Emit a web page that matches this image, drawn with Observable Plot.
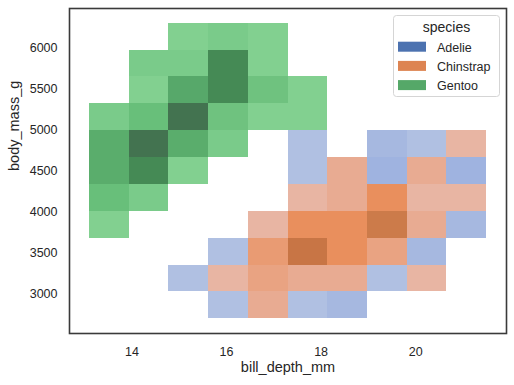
<!DOCTYPE html>
<html>
<head>
<meta charset="utf-8">
<script src="https://cdn.jsdelivr.net/npm/d3@7"></script>
<script src="https://cdn.jsdelivr.net/npm/@observablehq/plot@0.6"></script>
<style>
  body { margin: 0; background: #fff; }
  #chart { position: relative; width: 514px; height: 385px; font-family: "Liberation Sans", Arial, sans-serif; }
  #chart svg.legend { position: absolute; left: 0; top: 0; pointer-events: none; }
</style>
</head>
<body>
<div id="chart"></div>
<script>
// ---- data ----
const species = ["Adelie", "Chinstrap", "Gentoo"];
const xTicks = [14, 16, 18, 20];
const yTicks = [3000, 3500, 4000, 4500, 5000, 5500, 6000];
// histogram bin edges (bill_depth_mm, body_mass_g)
const xEdges = [13.1, 13.94, 14.78, 15.62, 16.46, 17.3, 18.14, 18.98, 19.82, 20.66, 21.5];
const yEdges = [2700, 3027.3, 3354.5, 3681.8, 4009.1, 4336.4, 4663.6, 4990.9, 5318.2, 5645.5, 5972.7, 6300];
// visible counts per cell; rows from the top bin (5973-6300 g) down to the bottom bin, columns left to right
const adelieCounts = [
  [0,0,0,0,0,0,0,0,0,0],
  [0,0,0,0,0,0,0,0,0,0],
  [0,0,0,0,0,0,0,0,0,0],
  [0,0,0,0,0,0,0,0,0,0],
  [0,0,0,0,0,1,0,2,1,0],
  [0,0,0,0,0,1,0,3,0,3],
  [0,0,0,0,0,0,0,0,0,0],
  [0,0,0,0,0,0,0,0,0,2],
  [0,0,0,1,0,0,0,0,2,0],
  [0,0,1,0,0,0,0,1,0,0],
  [0,0,0,1,0,1,2,0,0,0]
];
const chinstrapCounts = [
  [0,0,0,0,0,0,0,0,0,0],
  [0,0,0,0,0,0,0,0,0,0],
  [0,0,0,0,0,0,0,0,0,0],
  [0,0,0,0,0,0,0,0,0,0],
  [0,0,0,0,0,0,0,0,0,1],
  [0,0,0,0,0,0,2,0,2,0],
  [0,0,0,0,0,1,2,6,1,1],
  [0,0,0,0,1,6,6,9,2,0],
  [0,0,0,0,4,10,6,3,0,0],
  [0,0,0,1,3,2,2,0,1,0],
  [0,0,0,0,2,0,0,0,0,0]
];
const gentooCounts = [
  [0,0,1,2,1,0,0,0,0,0],
  [0,2,2,11,1,0,0,0,0,0],
  [0,1,8,11,3,1,0,0,0,0],
  [2,4,15,3,1,1,0,0,0,0],
  [7,15,7,2,0,0,0,0,0,0],
  [7,11,1,0,0,0,0,0,0,0],
  [4,2,0,0,0,0,0,0,0,0],
  [1,0,0,0,0,0,0,0,0,0],
  [0,0,0,0,0,0,0,0,0,0],
  [0,0,0,0,0,0,0,0,0,0],
  [0,0,0,0,0,0,0,0,0,0]
];

// ---- styles ----
const baseColors = {Adelie: "#4c72b0", Chinstrap: "#dd8452", Gentoo: "#55a868"};
const ramps = {
  Adelie: d3.scaleLinear().domain([1, 2, 3]).range(["#b0c0e2", "#a6b8e0", "#9fb3e0"]).interpolate(d3.interpolateLab).clamp(true),
  Chinstrap: d3.scaleLinear().domain([1, 2, 3, 4, 6, 9, 10]).range(["#e8b5a3", "#e8ab92", "#e9a382", "#e99b73", "#e98f5d", "#cc7b4a", "#c87545"]).interpolate(d3.interpolateLab).clamp(true),
  Gentoo: d3.scaleLinear().domain([1, 2, 3, 4, 7, 8, 11, 15]).range(["#82d090", "#7acb8a", "#6fc27f", "#68bf7a", "#5aad6c", "#57a86a", "#458a55", "#437350"]).interpolate(d3.interpolateLab).clamp(true)
};

// ---- build cell table ----
const grids = {Adelie: adelieCounts, Chinstrap: chinstrapCounts, Gentoo: gentooCounts};
const nRows = yEdges.length - 1;
const cells = [];
for (const s of species) {
  grids[s].forEach((row, r) => {
    const j = nRows - 1 - r;
    row.forEach((c, i) => {
      if (c > 0) cells.push({species: s, x1: xEdges[i], x2: xEdges[i + 1], y1: yEdges[j], y2: yEdges[j + 1], count: c});
    });
  });
}

const W = 514, H = 385;
const chart = Plot.plot({
  width: W,
  height: H,
  marginLeft: 69,
  marginRight: 8,
  marginTop: 8,
  marginBottom: 52,
  style: {fontFamily: '"Liberation Sans", Arial, sans-serif', fontSize: "12.5px", color: "#262626", background: "#fff"},
  x: {domain: [12.68, 21.92]},
  y: {domain: [2520, 6480]},
  marks: [
    Plot.rect(cells, {
      x1: "x1", x2: "x2", y1: "y1", y2: "y2",
      fill: d => ramps[d.species](d.count),
      inset: 0,
      shapeRendering: "crispEdges"
    }),
    Plot.frame({stroke: "#3a3a3a", strokeWidth: 1.6}),
    Plot.axisX(xTicks, {tickSize: 0, tickPadding: 14, label: null, fontSize: "12.5px", tickFormat: d3.format("d")}),
    Plot.axisY(yTicks, {tickSize: 0, tickPadding: 12, label: null, fontSize: "12.5px", tickFormat: d3.format("d")}),
    Plot.text(["bill_depth_mm"], {frameAnchor: "bottom", dy: 38.5, fontSize: "14.5px", fill: "#262626"}),
    Plot.text(["body_mass_g"], {frameAnchor: "left", dx: -55, rotate: -90, fontSize: "14.5px", fill: "#262626"})
  ]
});

const container = document.getElementById("chart");
container.appendChild(chart);

// ---- legend (inside the axes, upper right) ----
const leg = d3.select(container).append("svg")
  .attr("class", "legend")
  .attr("width", W).attr("height", H)
  .style("font-family", '"Liberation Sans", Arial, sans-serif');
leg.append("rect")
  .attr("x", 393.5).attr("y", 15.5).attr("width", 106).attr("height", 81)
  .attr("rx", 3).attr("fill", "#fff").attr("fill-opacity", 0.8)
  .attr("stroke", "#d5d5d5").attr("stroke-width", 1);
leg.append("text")
  .attr("x", 446.5).attr("y", 32).attr("text-anchor", "middle")
  .attr("font-size", "14px").attr("fill", "#262626").text("species");
species.forEach((s, k) => {
  const y0 = 41.7 + k * 19.2;
  leg.append("rect").attr("x", 398).attr("y", y0).attr("width", 28).attr("height", 10).attr("fill", baseColors[s]);
  leg.append("text").attr("x", 437).attr("y", y0 + 9.8)
    .attr("font-size", "12.5px").attr("fill", "#262626").text(s);
});
</script>
</body>
</html>
